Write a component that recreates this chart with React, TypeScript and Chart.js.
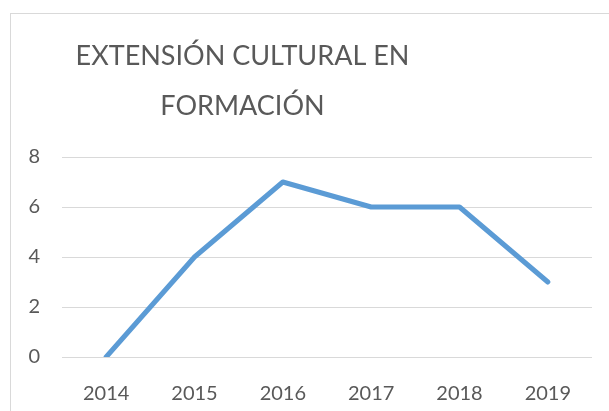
import React, { useEffect, useRef } from "react";
import { Chart, registerables } from "chart.js";

Chart.register(...registerables);

const categories = ["2014", "2015", "2016", "2017", "2018", "2019"];
const values = [0, 4, 7, 6, 6, 3];
const titleLines = ["EXTENSIÓN CULTURAL EN", "FORMACIÓN"];
const yMin = 0;
const yMax = 8;
const yStep = 2;

const FONT = "Lato, 'Open Sans', sans-serif";

const decorPlugin = {
  id: "decor",
  beforeDraw(chart: any) {
    const ctx = chart.ctx;
    ctx.save();
    ctx.strokeStyle = "#D9D9D9";
    ctx.lineWidth = 1;
    ctx.strokeRect(10.5, 13.5, 700, 500);
    ctx.restore();
  },
  afterDraw(chart: any) {
    const ctx = chart.ctx;
    ctx.save();
    ctx.fillStyle = "#595959";
    ctx.font = "27px " + FONT;
    ctx.textAlign = "center";
    ctx.textBaseline = "alphabetic";
    ctx.fillText(titleLines[0], 242.5, 65);
    ctx.fillText(titleLines[1], 242.5, 115);
    ctx.restore();
  },
};

export default function App() {
  const ref = useRef<HTMLCanvasElement | null>(null);
  useEffect(() => {
    if (!ref.current) return;
    const chart = new Chart(ref.current, {
      type: "line",
      data: {
        labels: categories,
        datasets: [
          {
            data: values,
            borderColor: "#5B9BD5",
            borderWidth: 5,
            borderCapStyle: "round",
            borderJoinStyle: "round",
            pointRadius: 0,
            tension: 0,
            fill: false,
          },
        ],
      },
      options: {
        responsive: false,
        animation: false,
        layout: { padding: { top: 157, right: 17, left: 0, bottom: 0 } },
        plugins: { legend: { display: false }, title: { display: false }, tooltip: { enabled: false } },
        scales: {
          x: {
            offset: true,
            grid: { display: false },
            border: { display: false },
            ticks: { color: "#595959", font: { family: FONT, size: 20 }, padding: 17, maxRotation: 0 },
            afterFit: (s: any) => {
              s.height = 54;
            },
          },
          y: {
            min: yMin,
            max: yMax,
            grid: { color: "#D9D9D9", lineWidth: 1, drawTicks: false },
            border: { display: false },
            ticks: { stepSize: yStep, color: "#595959", font: { family: FONT, size: 20 }, padding: 22 },
            afterFit: (s: any) => {
              s.width = 62;
            },
          },
        },
      },
      plugins: [decorPlugin],
    } as any);
    return () => chart.destroy();
  }, []);
  return (
    <div style={{ position: "fixed", left: 0, top: 0, width: 609, height: 411, background: "#fff" }}>
      <canvas ref={ref} width={609} height={411} style={{ width: 609, height: 411, display: "block" }} />
    </div>
  );
}
